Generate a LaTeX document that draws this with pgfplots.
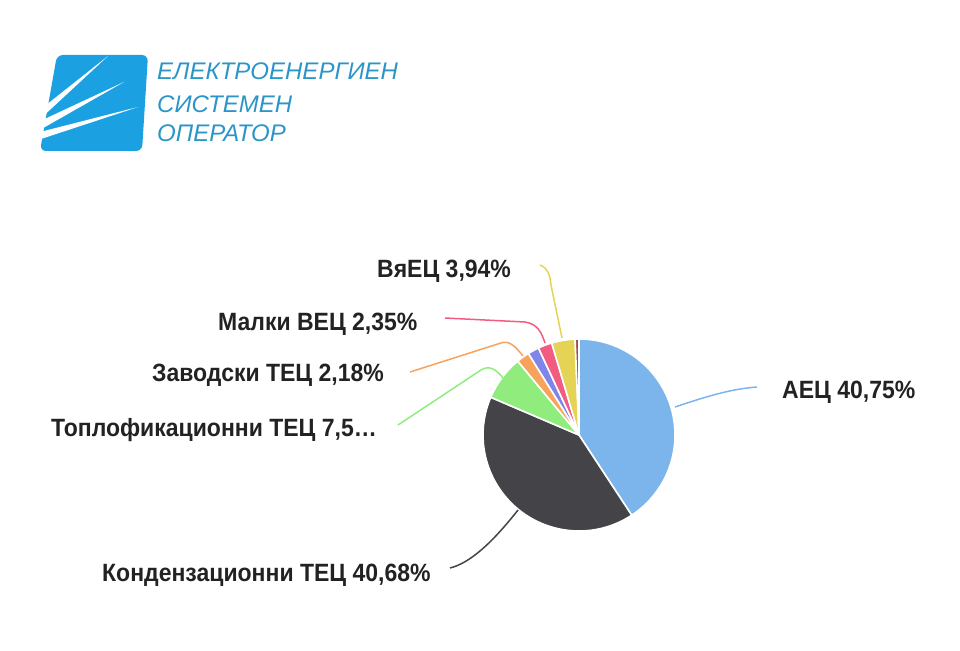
\documentclass[border=0pt]{standalone}
\usepackage{fontspec}
\setmainfont{Liberation Sans}
\newfontfamily\labfont{Liberation Sans}[FakeStretch=0.92]
\usepackage{pgfplots}
\usepackage{pgfplotstable}
\pgfplotsset{compat=1.18}

\definecolor{pie0}{HTML}{7CB5EC}
\definecolor{pie1}{HTML}{434348}
\definecolor{pie2}{HTML}{90ED7D}
\definecolor{pie3}{HTML}{F7A35C}
\definecolor{pie4}{HTML}{8085E9}
\definecolor{pie5}{HTML}{F15C80}
\definecolor{pie6}{HTML}{E4D354}
\definecolor{pie7}{HTML}{A04A55}
\definecolor{labeltxt}{HTML}{222222}
\definecolor{logoblue}{HTML}{1BA1E2}
\definecolor{logotxt}{HTML}{2B95C8}

% share of each source, clockwise from the top
\pgfplotstableread[col sep=comma]{
name,value
АЕЦ,40.75
Кондензационни ТЕЦ,40.68
Топлофикационни ТЕЦ,7.55
Заводски ТЕЦ,2.18
ВЕЦ,1.90
Малки ВЕЦ,2.35
ВяЕЦ,3.94
Други,0.65
}\piedata

\begin{document}
\begin{tikzpicture}
\begin{axis}[
  width=960pt, height=650pt, scale only axis,
  xmin=0, xmax=960, ymin=0, ymax=650,
  y dir=reverse, hide axis, clip=false,
]
% ---- logo ----
\fill[logoblue, rounded corners=6pt] (axis cs:57,55) -- (axis cs:148,55) -- (axis cs:142,151) -- (axis cs:40,151) -- cycle;
\fill[white] (axis cs:36,113) -- (axis cs:108,56) -- (axis cs:38,121) -- cycle;
\fill[white] (axis cs:36,123) -- (axis cs:124,82) -- (axis cs:38,131) -- cycle;
\fill[white] (axis cs:36,133) -- (axis cs:138,107) -- (axis cs:38,140) -- cycle;
\node[anchor=base west, inner sep=0, text=logotxt, font=\itshape\fontsize{24}{28}\selectfont] at (axis cs:157,80) {ЕЛЕКТРОЕНЕРГИЕН};
\node[anchor=base west, inner sep=0, text=logotxt, font=\itshape\fontsize{24}{28}\selectfont] at (axis cs:157,113) {СИСТЕМЕН};
\node[anchor=base west, inner sep=0, text=logotxt, font=\itshape\fontsize{24}{28}\selectfont] at (axis cs:157,142) {ОПЕРАТОР};

% ---- pie ----
\def\cum{0}
\pgfplotsforeachungrouped \i in {0,...,7}{%
  \pgfplotstablegetelem{\i}{value}\of\piedata
  \let\v\pgfplotsretval
  \pgfmathsetmacro\sa{90-3.6*\cum}%
  \pgfmathsetmacro\ea{90-3.6*(\cum+\v)}%
  \pgfmathsetmacro\cum{\cum+\v}%
  \edef\temp{\noexpand\fill[pie\i, draw=white, line width=1.6pt, line join=round] (axis cs:579,435) -- ++(\sa:96pt) arc[start angle=\sa, end angle=\ea, radius=96pt] -- cycle;}%
  \temp
}

% ---- connectors ----
\draw[pie0, line width=1.5pt] (axis cs:757,387) .. controls (axis cs:730,389) and (axis cs:705,397) .. (axis cs:675,407);
\draw[pie1, line width=1.5pt] (axis cs:450,568) .. controls (axis cs:470,563) and (axis cs:492,543) .. (axis cs:518,510);
\draw[pie2, line width=1.5pt] (axis cs:398,425) -- (axis cs:481,370) .. controls (axis cs:489,365) and (axis cs:496,369) .. (axis cs:503,378);
\draw[pie3, line width=1.5pt] (axis cs:410,372) -- (axis cs:501,343) .. controls (axis cs:509,340) and (axis cs:515,346) .. (axis cs:523,356);
\draw[pie5, line width=1.5pt] (axis cs:445,318) -- (axis cs:525,322) .. controls (axis cs:537,324) and (axis cs:541,331) .. (axis cs:545,343);
\draw[pie6, line width=1.5pt] (axis cs:540,265) .. controls (axis cs:548,268) and (axis cs:550,275) .. (axis cs:551,285) -- (axis cs:562,338);

% ---- labels ----
\tikzset{lab/.style={anchor=base west, inner sep=0, text=labeltxt, font=\labfont\bfseries\fontsize{25}{29}\selectfont}}
\node[lab] at (axis cs:377,277) {ВяЕЦ 3,94\%};
\node[lab] at (axis cs:218,330) {Малки ВЕЦ 2,35\%};
\node[lab] at (axis cs:152,381) {Заводски ТЕЦ 2,18\%};
\node[lab] at (axis cs:51,436) {Топлофикационни ТЕЦ 7,5…};
\node[lab] at (axis cs:782,398) {АЕЦ 40,75\%};
\node[lab] at (axis cs:102,581) {Кондензационни ТЕЦ 40,68\%};
\end{axis}
\pgfresetboundingbox
\path[use as bounding box] (current axis.south west) rectangle (current axis.north east);
\end{tikzpicture}
\end{document}
